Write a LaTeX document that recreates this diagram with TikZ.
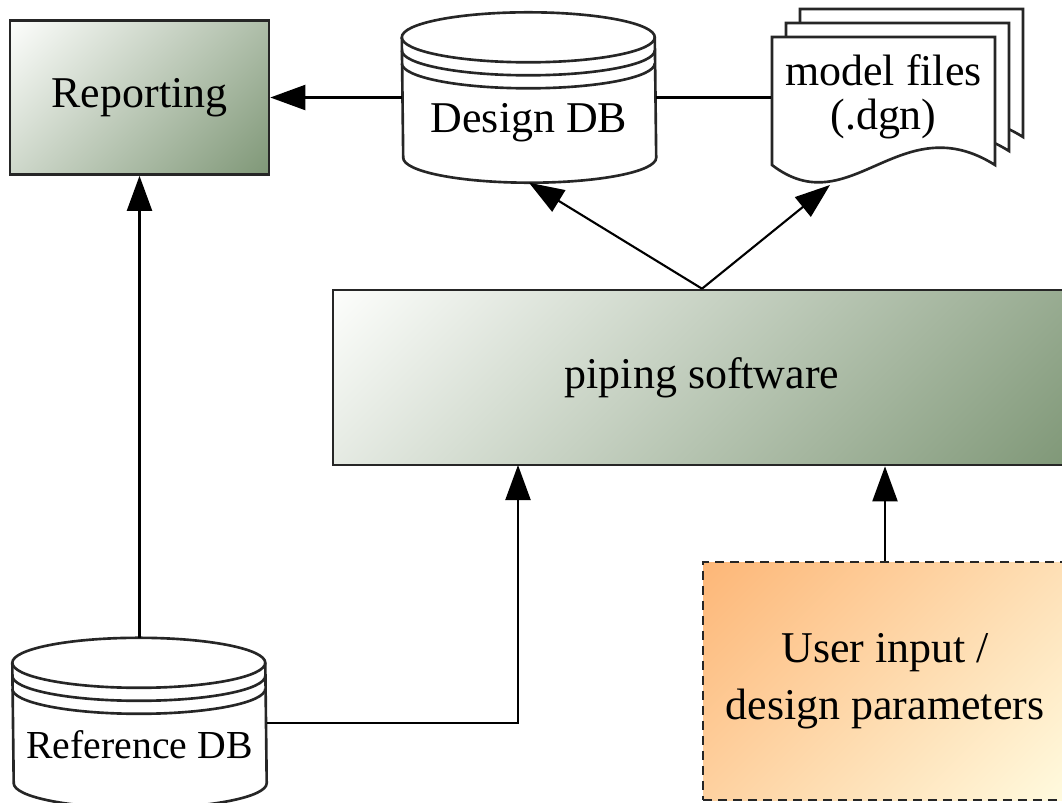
\documentclass[tikz,border=0pt]{standalone}
\usepackage{fontspec}
\setmainfont{Liberation Serif}
\usetikzlibrary{arrows.meta, calc}
\definecolor{sagedark}{RGB}{128,152,120}
\definecolor{sagelight}{RGB}{252,253,251}
\definecolor{peachdark}{RGB}{253,183,120}
\definecolor{peachlight}{RGB}{255,250,222}
\pgfdeclareverticalshading{sagefade}{100bp}{color(0bp)=(sagedark); color(15bp)=(sagedark); color(85bp)=(sagelight); color(100bp)=(sagelight)}
\pgfdeclareverticalshading{peachfade}{100bp}{color(0bp)=(peachlight); color(15bp)=(peachlight); color(85bp)=(peachdark); color(100bp)=(peachdark)}
\tikzset{>={Triangle[length=0.35cm,width=0.25cm]}}
\tikzset{
  shape line/.style={line width=0.75pt, draw=black!85},
  link/.style={line width=0.6pt},
  sagebox/.style={shape line, draw, rectangle, shade, shading=sagefade, shading angle=45},
  drum/.style={minimum width=2.53cm, minimum height=1.69cm, inner sep=0pt, text height=0.8cm, text depth=0.1cm},
}
% database drum round a named node
\newcommand{\drum}[1]{%
  \draw[shape line] ([yshift=-0.25cm]#1.north west) arc[start angle=180, end angle=0, x radius=1.265cm, y radius=0.25cm]
    -- ([yshift=0.25cm]#1.south east) arc[start angle=0, end angle=-180, x radius=1.265cm, y radius=0.25cm] -- cycle;
  \foreach \dy in {0.25,0.38,0.51}
    \draw[shape line] ([yshift=-\dy cm]#1.north west) arc[start angle=180, end angle=360, x radius=1.265cm, y radius=0.25cm];
}

\begin{document}
\begin{tikzpicture}[font=\fontsize{12.5}{14}\selectfont]
    \useasboundingbox (0,0) rectangle (10.62,-8.02);
    \clip (0,0) rectangle (10.62,-8.02);
    % boxes
    \node [sagebox, minimum width=2.59cm, minimum height=1.54cm] (report) at (1.395,-0.975) {Reporting};
    \node [sagebox, minimum width=7.38cm, minimum height=1.75cm] (piping) at (7.02,-3.775) {piping software};
    \node [shape line, draw, dash pattern=on 0.09cm off 0.06cm, shade, shading=peachfade, shading angle=45,
           minimum width=3.64cm, minimum height=2.38cm, align=center] (user) at (8.85,-6.81)
          {User input /\\[0.08cm] design parameters};
    % databases
    \node [drum] (design) at (5.29,-0.975) {Design DB};
    \drum{design}
    \node [drum, font=\fontsize{11.3}{13}\selectfont] (refdb) at (1.395,-7.23) {Reference DB};
    \drum{refdb}
    % stacked model files
    \foreach \s in {0.28,0.14,0}
      \draw [shape line, fill=white, shift={(\s,\s)}] (7.72,-0.37) -- (9.95,-0.37) -- (9.95,-1.65)
        .. controls (9.00,-1.05) and (8.50,-2.25) .. (7.72,-1.65) -- cycle;
    \node [minimum width=2.23cm, minimum height=1.28cm, align=center] (files) at (8.835,-0.97)
          {model files\\[-0.05cm] (.dgn)};
    \coordinate (filesdip) at (8.30,-1.85);
    \coordinate (refin) at (5.18,-4.65);
    % connectors
    \draw [link, ->] (design.west) -- (report.east);
    \draw [link] (design.east) -- (design.east -| files.west);
    \draw [link, ->] (piping.north) -- (design.south);
    \draw [link, ->] (piping.north) -- (filesdip);
    \draw [link, ->] (refdb.north) -- (report.south);
    \draw [link, ->] (refdb.east) -| (refin);
    \draw [link, ->] (user.north) -- (user.north |- piping.south);
\end{tikzpicture}
\end{document}
